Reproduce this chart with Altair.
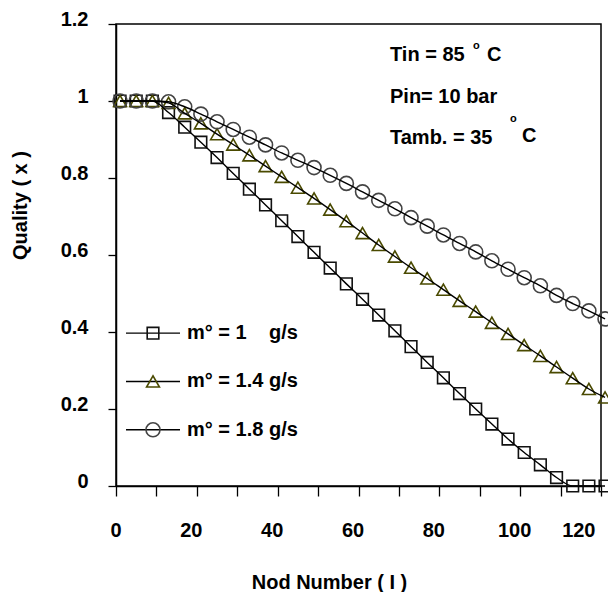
import altair as alt
import pandas as pd

# ---- data ----
nodes = [1, 5, 9, 13, 17, 21, 25, 29, 33, 37, 41, 45, 49, 53, 57, 61,
         65, 69, 73, 77, 81, 85, 89, 93, 97, 101, 105, 109, 113, 117, 121]

q_m10 = [1.0, 1.0, 1.0, 0.970, 0.932, 0.893, 0.853, 0.812, 0.771, 0.730,
         0.689, 0.648, 0.607, 0.566, 0.525, 0.485, 0.444, 0.403, 0.362,
         0.321, 0.281, 0.240, 0.200, 0.161, 0.122, 0.087, 0.055, 0.022,
         0.0, 0.0, 0.0]

q_m14 = [1.0, 1.0, 1.0, 0.995, 0.968, 0.942, 0.914, 0.887, 0.859, 0.831,
         0.803, 0.775, 0.747, 0.718, 0.688, 0.657, 0.626, 0.596, 0.567,
         0.539, 0.510, 0.481, 0.453, 0.424, 0.395, 0.366, 0.338, 0.309,
         0.280, 0.252, 0.230]

q_m18 = [1.0, 1.0, 1.0, 0.998, 0.985, 0.966, 0.946, 0.926, 0.906, 0.886,
         0.865, 0.846, 0.827, 0.807, 0.786, 0.764, 0.742, 0.720, 0.697,
         0.675, 0.652, 0.630, 0.608, 0.585, 0.563, 0.541, 0.520, 0.495,
         0.474, 0.455, 0.434]

series_labels = ["m\u00b0 = 1\u00a0\u00a0\u00a0\u00a0g/s", "m\u00b0 = 1.4 g/s", "m\u00b0 = 1.8 g/s"]

x_ticks = [0, 10, 20, 30, 40, 50, 60, 70, 80, 90, 100, 110, 120]
y_ticks = [0.0, 0.1, 0.2, 0.3, 0.4, 0.5, 0.6, 0.7, 0.8, 0.9, 1.0, 1.1, 1.2]

# ---- tables ----
rows = []
for lab, vals in zip(series_labels, [q_m10, q_m14, q_m18]):
    for n, q in zip(nodes, vals):
        rows.append({"node": n, "q": q, "series": lab})
df = pd.DataFrame(rows)
legend_df = pd.DataFrame({"series": series_labels, "idx": list(range(len(series_labels)))})

FONT = "Liberation Sans"
FS = 20
W, H = 485, 462

shape_scale = alt.Scale(domain=series_labels, range=["square", "triangle-up", "circle"])
stroke_scale = alt.Scale(domain=series_labels, range=["#111111", "#4a4a00", "#444444"])
size_scale = alt.Scale(domain=series_labels, range=[135, 196, 280])

x_enc = alt.X("node:Q", scale=alt.Scale(domain=[0, 120], nice=False),
              axis=alt.Axis(values=x_ticks,
                            labelExpr="datum.value % 20 == 0 ? format(datum.value, 'd') : ''",
                            title="Nod Number ( I )", tickSize=10, labelPadding=24,
                            labelOffset=-6, titleX=213, titleY=96, titleBaseline="middle"))
y_enc = alt.Y("q:Q", scale=alt.Scale(domain=[0, 1.2], nice=False),
              axis=alt.Axis(values=y_ticks,
                            labelExpr="round(datum.value*10) % 2 == 0 ? "
                                      "(round(datum.value*10) % 10 == 0 ? format(datum.value, '~g') "
                                      ": format(datum.value, '~g') + '\u00a0\u00a0\u00a0') : ''",
                            title="Quality ( x )", tickSize=8, labelPadding=20,
                            labelOffset=-5,
                            titleX=-96, titleY=181, titleBaseline="middle"))

base = alt.Chart(df)

lines = base.mark_line(color="black", strokeWidth=1.4, interpolate="monotone").encode(
    x=x_enc, y=y_enc, detail="series:N")

points = base.mark_point(filled=False, strokeWidth=1.6, opacity=1).encode(
    x="node:Q", y="q:Q",
    shape=alt.Shape("series:N", scale=shape_scale, legend=None),
    stroke=alt.Stroke("series:N", scale=stroke_scale, legend=None),
    size=alt.Size("series:N", scale=size_scale, legend=None))

# ---- hand-made legend inside the plot ----
leg = alt.Chart(legend_df).transform_calculate(ly="0.397 - 0.1255 * datum.idx")
leg_rules = leg.mark_rule(color="black", strokeWidth=1.4).encode(
    x=alt.value(10), x2=alt.value(64), y="ly:Q")
leg_pts = leg.mark_point(filled=False, strokeWidth=1.6, opacity=1).encode(
    x=alt.value(37), y="ly:Q",
    shape=alt.Shape("series:N", scale=shape_scale, legend=None),
    stroke=alt.Stroke("series:N", scale=stroke_scale, legend=None),
    size=alt.Size("series:N", scale=size_scale, legend=None))
leg_txt = leg.mark_text(align="left", baseline="middle", font=FONT, fontWeight="bold",
                        fontSize=FS, color="black").encode(
    x=alt.value(71), y="ly:Q", text="series:N")

# ---- annotations ----
def txt(s, x, y, size=FS):
    return alt.Chart(pd.DataFrame({"t": [s]})).mark_text(
        align="left", baseline="middle", font=FONT, fontWeight="bold",
        fontSize=size, color="black").encode(x=alt.value(x), y=alt.value(y), text="t:N")

ann = [
    txt("Tin = 85", 274, 31), txt("o", 357, 22, 11), txt("C", 371, 31),
    txt("Pin= 10 bar", 274, 73),
    txt("Tamb. = 35", 274, 114), txt("o", 394, 95, 11), txt("C", 406, 112),
]

chart = alt.layer(points, lines, leg_rules, leg_pts, leg_txt, *ann).properties(
    width=W, height=H,
    autosize=alt.AutoSizeParams(type="none"),
    padding={"left": 108, "top": 16, "right": 7, "bottom": 106},
    background="white",
).configure_axis(
    grid=False, domainColor="black", domainWidth=1.5, tickColor="black", tickWidth=1.3,
    labelFont=FONT, labelFontWeight="bold", labelFontSize=FS, labelColor="black",
    titleFont=FONT, titleFontWeight="bold", titleFontSize=FS, titleColor="black",
).configure_view(stroke="black", strokeWidth=1.5)

chart.save("out.html", embed_options={"renderer": "svg", "actions": False})
